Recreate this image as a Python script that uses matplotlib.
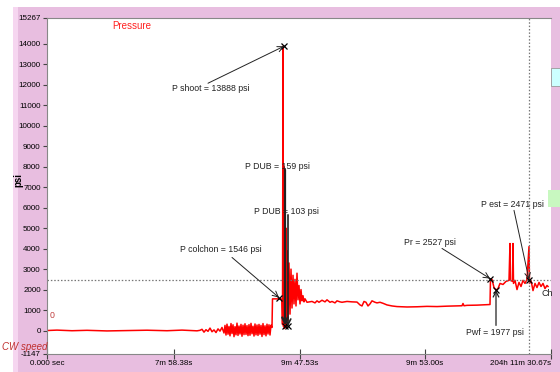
#!/usr/bin/env python3

import matplotlib
matplotlib.use("Agg")
import matplotlib.pyplot as plt
from matplotlib.patches import Rectangle

plt.rcParams['font.family'] = ['Liberation Sans', 'DejaVu Sans']

# pressure trace, x = sample position on the (non-linear) time axis
t_base = [0, 10, 25, 40, 60, 80, 100, 120, 135, 150, 153]
p_base = [0, 20, -10, 10, -20, 0, 15, -10, 20, -15, 10]

t_light = [155, 157, 159, 161, 163, 165, 167, 169, 171, 173, 175, 177]
p_light = [60, -80, 40, -40, 120, -60, 30, -100, 80, -30, 150, -120]

t_noise = [178, 179, 180, 181, 182, 183, 184, 185, 186, 187, 188, 189,
           190, 191, 192, 193, 194, 195, 196, 197, 198, 199, 200, 201,
           202, 203, 204, 205, 206, 207, 208, 209, 210, 211, 212, 213,
           214, 215, 216, 217, 218, 219, 220, 221, 222, 223, 224, 225]
p_noise = [250, -220, 310, -180, 200, -260, 340, -150, 280, -300, 190, -210,
           360, -240, 220, -170, 300, -280, 260, -200, 330, -190, 240, -250,
           290, -230, 350, -160, 210, -270, 320, -210, 270, -240, 300, -180,
           250, -290, 340, -200, 230, -260, 310, -170, 280, -220, 260, 150]

t_spike = [225.5, 234, 235, 235.5, 236, 236.5, 237, 237.5, 238, 238.5, 239,
           239.5, 240, 241, 242, 243, 244, 245, 246, 247, 248, 249, 250, 251,
           252, 253, 254, 255, 256, 257, 258]
p_spike = [1546, 1546, 1450, 300, 13888, 200, 8000, 100, 7600, 300, 5000,
           150, 3900, 500, 3300, 800, 3000, 1100, 2700, 1300, 2500, 1200, 2800,
           1500, 2200, 1300, 2000, 1450, 1700, 1400, 1550]

t_flow = [260, 265, 268, 270, 272, 275, 278, 280, 283, 285, 288, 290, 293,
          295, 300, 305, 310, 313, 315, 317, 319, 321, 323, 325, 328, 330,
          333, 336, 340, 345, 350, 360, 370, 380, 390, 400, 410, 415, 416,
          417, 420, 430, 440, 443]
p_flow = [1380, 1420, 1350, 1450, 1380, 1480, 1400, 1500, 1380, 1420, 1350,
          1450, 1400, 1380, 1420, 1400, 1390, 1250, 1200, 1420, 1380, 1200,
          1300, 1450, 1380, 1350, 1380, 1330, 1250, 1200, 1170, 1150, 1160,
          1180, 1170, 1190, 1200, 1210, 1320, 1210, 1230, 1240, 1260, 1270]

t_end = [443.5, 445, 447, 449, 451, 453, 456, 459, 462, 463, 463.5, 465.5,
         466, 466.5, 468, 470, 472, 474, 476, 478, 480, 482, 482.5, 484, 486,
         488, 490, 492, 494, 496, 498, 500, 501]
p_end = [2527, 2500, 2100, 1977, 2050, 2300, 2250, 2400, 2450, 4250, 2450,
         2400, 4250, 2300, 2450, 2000, 2350, 2150, 2450, 2300, 2500, 4100,
         2300, 2450, 1950, 2300, 2100, 2350, 2150, 2300, 2050, 2200, 2150]

t = t_base + t_light + t_noise + t_spike + t_flow + t_end
p = p_base + p_light + p_noise + p_spike + p_flow + p_end

x_ticks = [0, 127, 253, 378, 504]
x_labels = ["0.000 sec", "7m 58.38s", "9m 47.53s", "9m 53.00s", "204h 11m 30.67s"]
y_ticks = [-1147, 0, 1000, 2000, 3000, 4000, 5000, 6000, 7000, 8000,
           9000, 10000, 11000, 12000, 13000, 14000, 15267]

# annotations: text, text position, arrow tail, arrow head, line width
notes = [
    ("P shoot = 13888 psi", (164, 11830), (161, 12080), (237, 13888), 0.7),
    ("P DUB = 159 psi", (230, 8020), (238, 7850), (238, 245), 1.6),
    ("P DUB = 103 psi", (239, 5820), (241, 5650), (241, 200), 1.2),
    ("P colchon = 1546 psi", (174, 3960), (185, 3570), (232, 1610), 0.7),
    ("Pr = 2527 psi", (383, 4300), (395, 4010), (443, 2540), 0.7),
    ("Pwf = 1977 psi", (448, -100), (449, 250), (449, 1977), 0.9),
    ("P est = 2471 psi", (465, 6160), (467, 5870), (482, 2490), 0.7),
]
p_ref = 2471
t_cursor = 482

pink = "#E8BEE0"
fig = plt.figure(figsize=(5.6, 3.72), dpi=100)
fig.patch.set_facecolor("white")
fig.patches.append(Rectangle((13/560, 0), 1, 365/372, transform=fig.transFigure,
                             facecolor=pink, edgecolor="none", zorder=-2))
fig.patches.append(Rectangle((13/560, 0), 5/560, 365/372, transform=fig.transFigure,
                             facecolor="#F6D6F0", edgecolor="none", zorder=-1))
fig.patches.append(Rectangle((551/560, (372-86)/372), 9/560, 18/372,
                             transform=fig.transFigure, facecolor="#CCFFFF",
                             edgecolor="#999999", lw=0.6))
fig.patches.append(Rectangle((548/560, (372-207)/372), 12/560, 17/372,
                             transform=fig.transFigure, facecolor="#C8F8C0",
                             edgecolor="none"))

ax = fig.add_axes([47/560, 18/372, 504/560, 336/372])
ax.set_facecolor("white")

ax.plot(t, p, color="#FF0000", lw=1.1)

ax.axhline(p_ref, color="#777777", ls=(0, (1.2, 1.5)), lw=0.9)
ax.axvline(t_cursor, color="#777777", ls=(0, (1.2, 1.5)), lw=0.9)

for label, pos, tail, head, lw in notes:
    ax.text(pos[0], pos[1], label, fontsize=6.3, ha="center", va="center",
            color="#222222")
    ax.annotate("", xy=head, xytext=tail,
                arrowprops=dict(arrowstyle="->", color="#222222", lw=lw,
                                shrinkA=0, shrinkB=0))
    ax.plot(head[0], head[1], marker="x", color="black", ms=4, mew=0.9)

ax.text(85, 14900, "Pressure", color="#FF2020", fontsize=7, ha="center",
        va="center")
ax.text(5, 730, "0", color="#C04040", fontsize=6.3, ha="center", va="center")
ax.text(494, 1800, "Ch", color="#222222", fontsize=6.5, ha="left", va="center")
fig.text(47/560, (372-347)/372, "CW speed", color="#C03030", fontsize=7,
         style="italic", ha="right", va="center")
fig.text(18/560, (372-180)/372, "psi", fontsize=7, fontweight="bold",
         rotation=90, ha="center", va="center")

ax.set_xlim(0, 504)
ax.set_ylim(-1147, 15267)
ax.set_yticks(y_ticks)
ax.set_yticklabels([str(v) for v in y_ticks])
ax.set_xticks(x_ticks)
ax.set_xticklabels(x_labels)
ax.get_xticklabels()[-1].set_horizontalalignment("right")

ax.tick_params(axis="y", direction="out", length=3, width=0.8, color="#444444",
               labelsize=5.8, pad=1.5)
ax.tick_params(axis="x", direction="inout", length=7, width=0.8, color="#444444",
               labelsize=5.8, pad=1)
for s in ax.spines.values():
    s.set_color("#888888")
    s.set_linewidth(0.8)
ax.spines["right"].set_visible(False)

fig.savefig("out.png", dpi=100, facecolor=fig.get_facecolor())
